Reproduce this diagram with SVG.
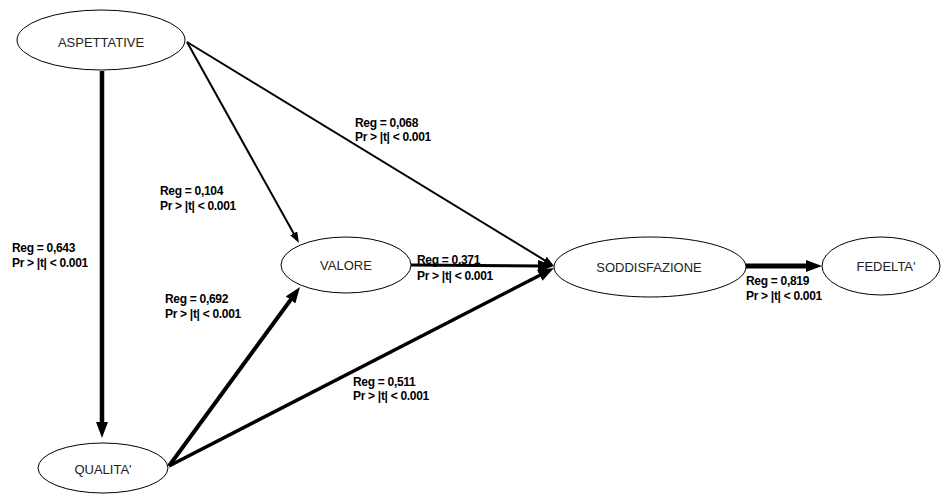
<svg xmlns="http://www.w3.org/2000/svg" width="942" height="495" viewBox="0 0 942 495">
<style>
.node ellipse{fill:#fff;stroke:#000;stroke-width:1}
.node text{font-family:"Liberation Sans",Arial,sans-serif;font-size:13px;text-anchor:middle;fill:#222}
.edge{stroke:#000;fill:none}
.lbl{font-family:"Liberation Sans",Arial,sans-serif;font-size:12px;font-weight:bold;fill:#000;letter-spacing:-0.3px}
</style>
<defs>
<marker id="thick" markerUnits="userSpaceOnUse" markerWidth="16" markerHeight="12" refX="4" refY="6" orient="auto"><path d="M0,0 L16,6 L0,12 z" fill="#000"/></marker>
<marker id="thin" markerUnits="userSpaceOnUse" markerWidth="11" markerHeight="8" refX="3" refY="4" orient="auto"><path d="M0,0 L11,4 L0,8 z" fill="#000"/></marker>
</defs>
<rect width="942" height="495" fill="#fff"/>
<g id="connectors">
<line class="edge" x1="102" y1="71" x2="102" y2="426" stroke-width="4.5" marker-end="url(#thick)"/>
<line class="edge" x1="187" y1="42" x2="295.1" y2="236" stroke-width="2" marker-end="url(#thin)"/>
<line class="edge" x1="187" y1="42" x2="547.2" y2="261.8" stroke-width="2" marker-end="url(#thin)"/>
<line class="edge" x1="169" y1="466" x2="292.9" y2="296.7" stroke-width="4" marker-end="url(#thick)"/>
<line class="edge" x1="169" y1="466" x2="543.3" y2="273.5" stroke-width="3.5" marker-end="url(#thick)"/>
<line class="edge" x1="411" y1="265" x2="542" y2="266" stroke-width="3" marker-end="url(#thick)"/>
<line class="edge" x1="746" y1="266" x2="810" y2="266" stroke-width="5" marker-end="url(#thick)"/>
</g>
<g id="labels">
<text class="lbl" x="12" y="252">Reg = 0,643</text>
<text class="lbl" x="12" y="267">Pr &gt; |t| &lt; 0.001</text>
<text class="lbl" x="160" y="195">Reg = 0,104</text>
<text class="lbl" x="160" y="210">Pr &gt; |t| &lt; 0.001</text>
<text class="lbl" x="355" y="127">Reg = 0,068</text>
<text class="lbl" x="355" y="141">Pr &gt; |t| &lt; 0.001</text>
<text class="lbl" x="165" y="303">Reg = 0,692</text>
<text class="lbl" x="165" y="318">Pr &gt; |t| &lt; 0.001</text>
<text class="lbl" x="417" y="264">Reg = 0.371</text>
<text class="lbl" x="417" y="280">Pr &gt; |t| &lt; 0.001</text>
<text class="lbl" x="353" y="386">Reg = 0,511</text>
<text class="lbl" x="353" y="400">Pr &gt; |t| &lt; 0.001</text>
<text class="lbl" x="746" y="285">Reg = 0,819</text>
<text class="lbl" x="746" y="300">Pr &gt; |t| &lt; 0.001</text>
</g>
<g id="aspettative" class="node"><ellipse cx="101" cy="40" rx="84" ry="30"/><text x="101" y="47">ASPETTATIVE</text></g>
<g id="qualita" class="node"><ellipse cx="103" cy="468" rx="65" ry="25"/><text x="103" y="474">QUALITA'</text></g>
<g id="valore" class="node"><ellipse cx="346" cy="265" rx="65" ry="28"/><text x="346" y="270">VALORE</text></g>
<g id="soddisfazione" class="node"><ellipse cx="650" cy="267" rx="96" ry="30"/><text x="649" y="272">SODDISFAZIONE</text></g>
<g id="fedelta" class="node"><ellipse cx="881" cy="266" rx="59" ry="29"/><text x="886" y="271">FEDELTA'</text></g>
</svg>
